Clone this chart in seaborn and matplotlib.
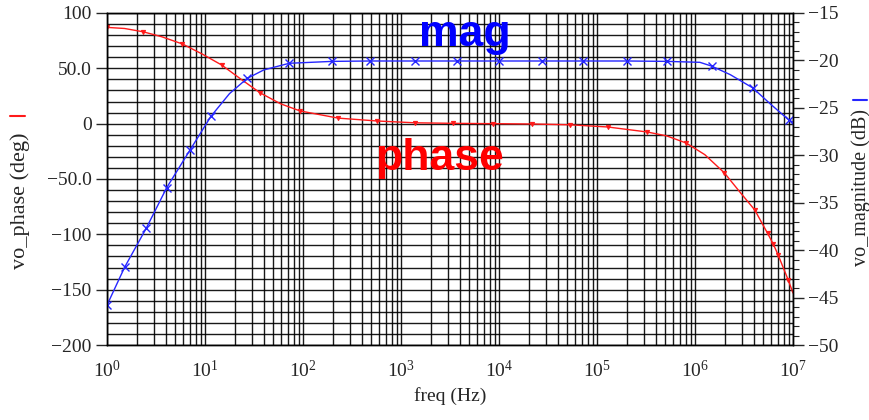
import numpy as np
import pandas as pd
import matplotlib
matplotlib.use("Agg")
import matplotlib.pyplot as plt
import matplotlib.ticker as mticker
from matplotlib.lines import Line2D
import seaborn as sns

# phase curve, log10(freq) and degrees
phase_logf = [0.00, 0.18, 0.37, 0.56, 0.77, 0.97, 1.17, 1.37, 1.56, 1.77, 1.97,
              2.36, 2.76, 3.14, 3.53, 3.94, 4.34, 4.72, 5.11, 5.51, 5.71, 5.91,
              6.10, 6.30, 6.46, 6.61, 6.74, 6.80, 6.85, 6.95, 7.00]
phase_deg = [87, 86, 83, 78.5, 72, 63, 53, 40, 28, 18, 11.5,
             5, 2.4, 0.8, 0.3, 0, -0.3, -1, -3, -7.5, -11, -17.5,
             -28, -44.5, -62, -78, -99, -109, -119, -141, -153]
phase_marks = [0, 2, 4, 6, 8, 10, 11, 12, 13, 14, 15, 16, 17, 18, 19, 21, 23,
               25, 26, 27, 28, 29]

# magnitude curve, log10(freq) and dB
mag_logf = [0.00, 0.18, 0.40, 0.61, 0.85, 1.06, 1.25, 1.43, 1.60, 1.86, 2.30,
            2.68, 3.14, 3.57, 4.00, 4.44, 4.86, 5.31, 5.71, 6.05, 6.17, 6.36,
            6.59, 6.77, 6.96, 7.00]
mag_db = [-45.8, -41.8, -37.7, -33.4, -29.4, -25.9, -23.5, -21.9, -21.0, -20.3,
          -20.1, -20.06, -20.06, -20.06, -20.06, -20.06, -20.06, -20.06, -20.1,
          -20.2, -20.6, -21.5, -22.9, -24.6, -26.3, -26.5]
mag_marks = [0, 1, 2, 3, 4, 5, 7, 9, 10, 11, 12, 13, 14, 15, 16, 17, 18, 20,
             22, 24]

freq_decades = [1, 10, 100, 1e3, 1e4, 1e5, 1e6, 1e7]
phase_ticks = [-200, -150, -100, -50, 0, 50, 100]
phase_labels = ['\u2212200', '\u2212150', '\u2212100', '\u221250.0', '0', '50.0', '100']
mag_ticks = [-50, -45, -40, -35, -30, -25, -20, -15]

RED = '#ff1a1a'
BLUE = '#2626ff'


def main():
    sns.set_style('white')
    plt.rcParams['font.family'] = ['Liberation Serif', 'DejaVu Serif']
    plt.rcParams['mathtext.fontset'] = 'stix'
    plt.rcParams['font.size'] = 14

    df_ph = pd.DataFrame({'freq': np.power(10.0, phase_logf), 'phase': phase_deg})
    df_mag = pd.DataFrame({'freq': np.power(10.0, mag_logf), 'mag': mag_db})

    fig = plt.figure(figsize=(8.7, 4.2), dpi=100)
    ax = fig.add_axes([107 / 870, 75 / 420, 686 / 870, 332 / 420])
    ax2 = ax.twinx()

    ax.set_xscale('log')
    ax.set_xlim(1, 1e7)
    ax.set_ylim(-200, 100)
    ax.xaxis.set_major_locator(mticker.FixedLocator(freq_decades))
    ax.xaxis.set_major_formatter(mticker.LogFormatterSciNotation())
    ax.xaxis.set_minor_locator(mticker.LogLocator(base=10, subs=np.arange(2, 10), numticks=100))
    ax.xaxis.set_minor_formatter(mticker.NullFormatter())
    ax.set_yticks(phase_ticks)
    ax.set_yticklabels(phase_labels)
    ax.yaxis.set_minor_locator(mticker.MultipleLocator(10))
    ax.grid(True, which='both', color='black', linewidth=1.0, alpha=0.9)
    ax.set_axisbelow(True)

    sns.lineplot(data=df_ph, x='freq', y='phase', ax=ax, color=RED, linewidth=1,
                 marker='v', markersize=3, markevery=phase_marks, sort=False,
                 markeredgecolor=RED)
    sns.lineplot(data=df_mag, x='freq', y='mag', ax=ax2, color=BLUE, linewidth=1,
                 marker='x', markersize=6, markevery=mag_marks, sort=False,
                 markeredgecolor=BLUE, markeredgewidth=1)

    ax2.set_ylim(-50, -15)
    ax2.set_yticks(mag_ticks)
    ax2.set_yticklabels(['\u2212%d' % -t for t in mag_ticks])
    ax2.yaxis.set_minor_locator(mticker.MultipleLocator(1))
    ax2.set_xlim(1, 1e7)

    ax.set_xlabel('freq (Hz)', fontsize=14, labelpad=4)
    ax.set_ylabel('')
    ax2.set_ylabel('')

    ax.tick_params(axis='both', which='major', direction='out', length=8, width=1,
                   labelsize=14, pad=3)
    ax.tick_params(axis='y', which='minor', length=0)
    ax.tick_params(axis='x', which='minor', length=3, width=0.8)
    ax2.tick_params(axis='y', which='major', direction='out', length=8, width=1,
                    labelsize=14, pad=3)
    ax2.tick_params(axis='y', which='minor', direction='out', length=4, width=0.8)

    for a in (ax, ax2):
        for s in a.spines.values():
            s.set_color('black')
            s.set_linewidth(1)

    # axis titles with little colour keys
    fig.text(20 / 870, 1 - 201 / 420, 'vo_phase (deg)', rotation=90,
             ha='center', va='center', fontsize=16)
    fig.text(861 / 870, 1 - 187 / 420, 'vo_magnitude (dB)', rotation=90,
             ha='center', va='center', fontsize=14.5)
    fig.add_artist(Line2D([10 / 870, 25 / 870], [1 - 116 / 420] * 2,
                          color=RED, linewidth=1.5, transform=fig.transFigure))
    fig.add_artist(Line2D([853 / 870, 867 / 870], [1 - 100 / 420] * 2,
                          color=BLUE, linewidth=1.5, transform=fig.transFigure))

    fig.text(465 / 870, 1 - 46 / 420, 'mag', color='#0000ff', fontsize=32,
             fontweight='bold', family=['Liberation Sans', 'DejaVu Sans'],
             ha='center', va='baseline')
    fig.text(439 / 870, 1 - 170 / 420, 'phase', color='#ff0000', fontsize=32,
             fontweight='bold', family=['Liberation Sans', 'DejaVu Sans'],
             ha='center', va='baseline')

    fig.savefig('out.png', dpi=100)
    plt.close(fig)


if __name__ == "__main__":
    main()
